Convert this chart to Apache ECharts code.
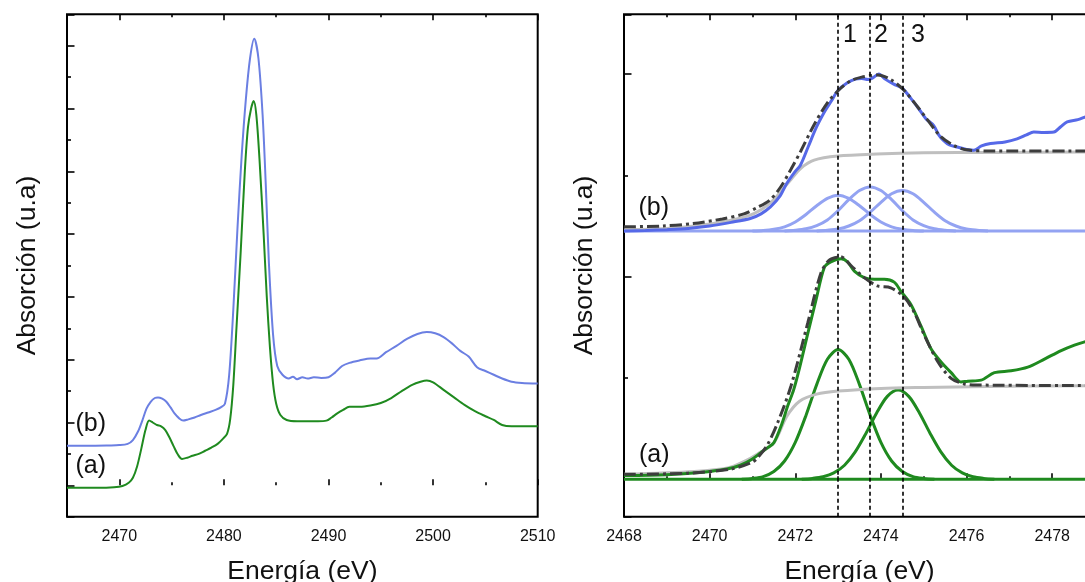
<!DOCTYPE html>
<html>
<head>
<meta charset="utf-8">
<script src="https://cdn.jsdelivr.net/npm/echarts@6/dist/echarts.min.js"></script>
<style>
  html, body { margin: 0; padding: 0; background: #ffffff; }
  #chart { width: 1085px; height: 582px; }
</style>
</head>
<body>
<div id="chart"></div>
<script>
// ---------- Left panel: full S K-edge XANES spectra ----------
const spectrumEnergyB = [2465, 2467, 2469, 2470, 2470.8, 2471.3, 2471.8, 2472.2, 2472.6, 2473.0, 2473.4, 2473.7, 2474.1, 2474.5, 2474.9, 2475.3, 2475.7, 2476.1, 2476.6, 2477.2, 2477.8, 2478.5, 2479.2, 2479.7, 2480.1, 2480.5, 2480.9, 2481.3, 2481.7, 2482.1, 2482.5, 2482.9, 2483.3, 2483.7, 2484.0, 2484.3, 2484.7, 2485.1, 2485.6, 2486.2, 2486.6, 2487.0, 2487.5, 2488.0, 2488.6, 2489.3, 2490.0, 2490.6, 2491.3, 2492.0, 2493.0, 2494.0, 2494.6, 2495.5, 2496.5, 2497.5, 2498.5, 2499.4, 2500.2, 2501.0, 2501.8, 2502.6, 2503.4, 2504.2, 2505.0, 2505.8, 2506.6, 2507.5, 2508.5, 2510];
const spectrumAbsB = [0.63, 0.63, 0.635, 0.64, 0.66, 0.72, 0.86, 1.03, 1.22, 1.33, 1.39, 1.40, 1.38, 1.33, 1.24, 1.14, 1.07, 1.03, 1.05, 1.08, 1.12, 1.16, 1.20, 1.24, 1.30, 1.75, 2.8, 4.1, 5.25, 6.15, 6.8, 7.11, 6.8, 5.9, 4.8, 3.55, 2.4, 1.9, 1.76, 1.70, 1.73, 1.69, 1.72, 1.70, 1.72, 1.71, 1.72, 1.79, 1.90, 1.95, 1.99, 2.02, 2.02, 2.12, 2.22, 2.33, 2.41, 2.44, 2.42, 2.36, 2.26, 2.14, 2.05, 1.88, 1.82, 1.76, 1.70, 1.65, 1.63, 1.62];

const spectrumEnergyA = [2465, 2468, 2469.5, 2470.3, 2470.9, 2471.3, 2471.7, 2472.1, 2472.5, 2472.85, 2473.2, 2473.6, 2474.0, 2474.4, 2474.8, 2475.2, 2475.6, 2476.0, 2476.5, 2477.0, 2477.6, 2478.2, 2478.8, 2479.4, 2479.9, 2480.3, 2480.6, 2480.9, 2481.2, 2481.6, 2482.0, 2482.3, 2482.6, 2482.85, 2483.1, 2483.4, 2483.8, 2484.1, 2484.4, 2484.7, 2485.0, 2485.4, 2486.0, 2487.0, 2488.0, 2489.0, 2489.8, 2490.3, 2490.8, 2491.4, 2492.0, 2493.0, 2494.0, 2495.0, 2496.0, 2497.0, 2498.0, 2498.8, 2499.4, 2500.0, 2501.0, 2502.0, 2503.0, 2504.0, 2505.0, 2505.8, 2506.6, 2507.5, 2510];
const spectrumAbsA = [-0.04, -0.04, -0.03, -0.01, 0.04, 0.12, 0.30, 0.58, 0.88, 1.03, 1.00, 0.96, 0.94, 0.88, 0.76, 0.62, 0.49, 0.42, 0.44, 0.47, 0.50, 0.55, 0.60, 0.66, 0.74, 0.82, 1.05, 1.6, 2.5, 3.7, 5.0, 5.7, 6.0, 6.12, 5.9, 5.2, 4.0, 3.0, 2.2, 1.62, 1.30, 1.12, 1.04, 1.02, 1.02, 1.02, 1.03, 1.08, 1.14, 1.20, 1.25, 1.25, 1.27, 1.31, 1.39, 1.50, 1.60, 1.65, 1.67, 1.64, 1.52, 1.40, 1.28, 1.18, 1.10, 1.04, 0.96, 0.94, 0.94];

// ---------- Right panel: pre-edge region with Gaussian deconvolution ----------
const peakCenters = [2473.0, 2473.75, 2474.5];
const peakNames = ['1', '2', '3'];

// sample (b)
const preEdgeEnergyB = [2468.0, 2468.5, 2469.0, 2469.5, 2470.0, 2470.5, 2470.95, 2471.2, 2471.42, 2471.65, 2471.8, 2472.0, 2472.12, 2472.3, 2472.5, 2472.7, 2472.85, 2473.0, 2473.2, 2473.4, 2473.55, 2473.7, 2473.8, 2473.95, 2474.1, 2474.3, 2474.5, 2474.7, 2474.88, 2475.05, 2475.23, 2475.35, 2475.46, 2475.6, 2475.78, 2476.0, 2476.17, 2476.35, 2476.56, 2476.9, 2477.18, 2477.4, 2477.57, 2477.8, 2478.04, 2478.2, 2478.35, 2478.6, 2478.78, 2479.0];
const preEdgeAbsB = [1.225, 1.228, 1.232, 1.238, 1.25, 1.268, 1.287, 1.31, 1.344, 1.40, 1.46, 1.52, 1.55, 1.64, 1.74, 1.82, 1.87, 1.92, 1.955, 1.975, 1.978, 1.973, 1.98, 2.0, 1.975, 1.95, 1.93, 1.88, 1.83, 1.78, 1.747, 1.70, 1.673, 1.65, 1.64, 1.628, 1.624, 1.645, 1.657, 1.665, 1.68, 1.70, 1.714, 1.712, 1.714, 1.74, 1.764, 1.775, 1.788, 1.80];

const fitEnergyB = [2468.0, 2468.9, 2469.6, 2470.3, 2470.8, 2471.1, 2471.4, 2471.65, 2471.9, 2472.13, 2472.44, 2472.75, 2473.06, 2473.3, 2473.55, 2473.92, 2474.23, 2474.54, 2474.85, 2475.08, 2475.39, 2475.7, 2476.0, 2476.6, 2479.0];
const fitAbsB = [1.246, 1.25, 1.262, 1.285, 1.31, 1.34, 1.377, 1.44, 1.53, 1.62, 1.75, 1.858, 1.93, 1.967, 1.985, 1.995, 1.973, 1.92, 1.84, 1.776, 1.693, 1.648, 1.626, 1.62, 1.62];

const stepEnergyB = [2468.0, 2469.0, 2469.64, 2470.42, 2470.9, 2471.2, 2471.5, 2471.65, 2471.9, 2472.13, 2472.44, 2472.99, 2473.9, 2475.0, 2476.6, 2479.0];
const stepAbsB = [1.232, 1.238, 1.25, 1.275, 1.30, 1.33, 1.38, 1.418, 1.48, 1.535, 1.575, 1.595, 1.605, 1.611, 1.613, 1.615];

const baseEnergy = [2468.0, 2479.0];
const baseAbsB = [1.2255, 1.2255];

const gauss1EnergyB = [2471.0, 2471.25, 2471.5, 2471.75, 2472.0, 2472.25, 2472.5, 2472.75, 2473.0, 2473.25, 2473.5, 2473.75, 2474.0, 2474.25, 2474.5, 2474.75, 2475.0];
const gauss1AbsB = [1.2255, 1.228, 1.234, 1.246, 1.270, 1.307, 1.350, 1.386, 1.402, 1.386, 1.350, 1.307, 1.270, 1.246, 1.234, 1.228, 1.2255];
const gauss2EnergyB = [2471.75, 2472.0, 2472.25, 2472.5, 2472.75, 2473.0, 2473.25, 2473.5, 2473.75, 2474.0, 2474.25, 2474.5, 2474.75, 2475.0, 2475.25, 2475.5, 2475.75];
const gauss2AbsB = [1.2255, 1.229, 1.236, 1.252, 1.280, 1.326, 1.380, 1.425, 1.443, 1.425, 1.380, 1.326, 1.280, 1.252, 1.236, 1.229, 1.2255];
const gauss3EnergyB = [2472.5, 2472.75, 2473.0, 2473.25, 2473.5, 2473.75, 2474.0, 2474.25, 2474.5, 2474.75, 2475.0, 2475.25, 2475.5, 2475.75, 2476.0, 2476.25, 2476.5];
const gauss3AbsB = [1.2255, 1.229, 1.235, 1.250, 1.276, 1.318, 1.367, 1.409, 1.425, 1.409, 1.367, 1.318, 1.276, 1.250, 1.235, 1.229, 1.2255];

// sample (a)
const preEdgeEnergyA = [2468.0, 2469.0, 2469.78, 2470.4, 2470.72, 2471.0, 2471.19, 2471.35, 2471.5, 2471.69, 2471.82, 2471.96, 2472.1, 2472.29, 2472.48, 2472.68, 2472.83, 2473.07, 2473.22, 2473.38, 2473.61, 2473.85, 2474.08, 2474.31, 2474.47, 2474.7, 2474.94, 2475.17, 2475.4, 2475.64, 2475.87, 2476.03, 2476.34, 2476.65, 2477.04, 2477.43, 2477.82, 2478.21, 2478.52, 2478.74, 2479.0];
const preEdgeAbsA = [0.018, 0.022, 0.033, 0.05, 0.069, 0.10, 0.13, 0.155, 0.18, 0.275, 0.36, 0.44, 0.55, 0.717, 0.881, 1.046, 1.073, 1.088, 1.073, 1.027, 0.995, 0.987, 0.987, 0.973, 0.927, 0.863, 0.754, 0.644, 0.58, 0.526, 0.48, 0.484, 0.489, 0.526, 0.535, 0.553, 0.593, 0.635, 0.662, 0.677, 0.69];

const fitEnergyA = [2468.0, 2469.5, 2470.5, 2471.0, 2471.12, 2471.35, 2471.59, 2471.9, 2472.29, 2472.6, 2472.8, 2473.07, 2473.3, 2473.61, 2473.92, 2474.23, 2474.54, 2474.77, 2475.0, 2475.33, 2475.64, 2475.95, 2476.26, 2479.0];
const fitAbsA = [0.024, 0.03, 0.05, 0.085, 0.106, 0.17, 0.28, 0.46, 0.77, 1.018, 1.082, 1.097, 1.055, 0.995, 0.954, 0.945, 0.90, 0.827, 0.717, 0.58, 0.498, 0.47, 0.465, 0.462];

const stepEnergyA = [2468.0, 2469.64, 2470.42, 2470.81, 2471.12, 2471.5, 2471.8, 2472.1, 2472.5, 2473.0, 2474.0, 2475.0, 2476.5, 2479.0];
const stepAbsA = [0.024, 0.038, 0.055, 0.088, 0.125, 0.18, 0.31, 0.385, 0.42, 0.435, 0.448, 0.453, 0.458, 0.462];

const baseAbsA = [0.0, 0.0];

const gauss1EnergyA = [2470.75, 2471.0, 2471.25, 2471.5, 2471.75, 2472.0, 2472.25, 2472.5, 2472.75, 2473.0, 2473.25, 2473.5, 2473.75, 2474.0, 2474.25, 2474.5, 2474.75, 2475.0, 2475.25];
const gauss1AbsA = [0.000, 0.004, 0.013, 0.038, 0.090, 0.182, 0.315, 0.467, 0.592, 0.640, 0.592, 0.467, 0.315, 0.182, 0.090, 0.038, 0.013, 0.004, 0.000];
const gauss3EnergyA = [2472.15, 2472.4, 2472.65, 2472.9, 2473.15, 2473.4, 2473.65, 2473.9, 2474.15, 2474.4, 2474.65, 2474.9, 2475.15, 2475.4, 2475.65, 2475.9, 2476.15, 2476.4, 2476.65];
const gauss3AbsA = [0.000, 0.004, 0.012, 0.031, 0.069, 0.135, 0.226, 0.327, 0.409, 0.440, 0.409, 0.327, 0.226, 0.135, 0.069, 0.031, 0.012, 0.004, 0.000];

// ---------- helpers ----------
const FONT = 'Liberation Sans, Arial, Helvetica, sans-serif';
const BLUE = '#6b7fe2';
const BLUE_DARK = '#5669e8';
const BLUE_LIGHT = '#93a3f2';
const GREEN = '#1f8a1f';
const GRAY = '#bfbfbf';
const FIT = '#3d3d3d';

function pairs(xs, ys) {
  return xs.map((x, i) => [x, ys[i]]);
}

function lineSeries(xIdx, yIdx, xs, ys, color, width, extra) {
  return Object.assign({
    type: 'line',
    xAxisIndex: xIdx,
    yAxisIndex: yIdx,
    data: pairs(xs, ys),
    showSymbol: false,
    symbol: 'none',
    smooth: 0.3,
    silent: true,
    animation: false,
    lineStyle: { color: color, width: width },
    itemStyle: { color: color }
  }, extra || {});
}

const tickStyle = { color: '#000', width: 1.6 };

function xAxis(gridIndex, position, range, withLabels) {
  const ax = {
    type: 'value',
    gridIndex: gridIndex,
    position: position,
    min: range.min,
    max: range.max,
    axisLine: { show: false },
    splitLine: { show: false },
    minorSplitLine: { show: false },
    axisTick: { show: true, inside: true, length: 6, lineStyle: tickStyle },
    minorTick: { show: true, splitNumber: 2, length: 3, lineStyle: tickStyle },
    axisLabel: { show: false }
  };
  if (range.interval) ax.interval = range.interval; else ax.splitNumber = range.splitNumber;
  if (withLabels) {
    ax.axisLabel = {
      show: true, margin: 12, fontSize: 16, color: '#111', fontFamily: FONT,
      showMinLabel: range.showMin,
      formatter: function (v) { return (Math.round(v) % range.labelStep === 0) ? String(Math.round(v)) : ''; }
    };
    ax.name = 'Energía (eV)';
    ax.nameLocation = 'middle';
    ax.nameGap = 41;
    ax.nameTextStyle = { fontSize: 26.5, color: '#111', fontFamily: FONT };
  }
  return ax;
}

function yAxis(gridIndex, min, max, splitNumber) {
  return {
    type: 'value',
    gridIndex: gridIndex,
    position: 'left',
    min: min,
    max: max,
    splitNumber: splitNumber,
    axisLine: { show: false },
    splitLine: { show: false },
    minorSplitLine: { show: false },
    axisTick: { show: true, inside: true, length: 7.5, lineStyle: tickStyle },
    minorTick: { show: true, splitNumber: 2, length: 4, lineStyle: tickStyle },
    axisLabel: { show: false },
    name: 'Absorción (u.a)',
    nameLocation: 'middle',
    nameGap: 26,
    nameTextStyle: { fontSize: 26.5, color: '#111', fontFamily: FONT }
  };
}

const leftRange = { min: 2465, max: 2510, splitNumber: 4, labelStep: 10, showMin: false };
const rightRange = { min: 2468, max: 2479, interval: 2, labelStep: 2, showMin: true };

const labelText = (x, y, text) => ({
  type: 'text', left: x, top: y, silent: true, z: 100,
  style: { text: text, fontSize: 25, fontFamily: FONT, fill: '#111' }
});

const gridBase = {
  top: 14.3, bottom: 65.3, show: true, borderColor: '#000', borderWidth: 2,
  backgroundColor: 'transparent', containLabel: false, outerBoundsMode: 'none'
};

const option = {
  backgroundColor: '#ffffff',
  animation: false,
  grid: [
    Object.assign({ left: 67, right: 547.3 }, gridBase),
    Object.assign({ left: 624, right: -10 }, gridBase)
  ],
  xAxis: [
    xAxis(0, 'bottom', leftRange, true),
    xAxis(0, 'top', leftRange, false),
    xAxis(1, 'bottom', rightRange, true),
    xAxis(1, 'top', rightRange, false)
  ],
  yAxis: [
    yAxis(0, -0.5, 7.5, 8),
    yAxis(1, -0.185, 2.295, 2)
  ],
  series: [
    // left panel
    lineSeries(0, 0, spectrumEnergyB, spectrumAbsB, BLUE, 2),
    lineSeries(0, 0, spectrumEnergyA, spectrumAbsA, GREEN, 2),

    // right panel, sample (b)
    lineSeries(2, 1, baseEnergy, baseAbsB, BLUE_LIGHT, 3, { smooth: false }),
    lineSeries(2, 1, gauss1EnergyB, gauss1AbsB, BLUE_LIGHT, 3),
    lineSeries(2, 1, gauss2EnergyB, gauss2AbsB, BLUE_LIGHT, 3),
    lineSeries(2, 1, gauss3EnergyB, gauss3AbsB, BLUE_LIGHT, 3),
    lineSeries(2, 1, stepEnergyB, stepAbsB, GRAY, 3),
    lineSeries(2, 1, preEdgeEnergyB, preEdgeAbsB, BLUE_DARK, 3),
    lineSeries(2, 1, fitEnergyB, fitAbsB, FIT, 3, { lineStyle: { color: FIT, width: 3, type: [12, 4, 3, 4] } }),

    // right panel, sample (a)
    lineSeries(2, 1, baseEnergy, baseAbsA, GREEN, 3, { smooth: false }),
    lineSeries(2, 1, gauss1EnergyA, gauss1AbsA, GREEN, 3),
    lineSeries(2, 1, gauss3EnergyA, gauss3AbsA, GREEN, 3),
    lineSeries(2, 1, stepEnergyA, stepAbsA, GRAY, 3),
    lineSeries(2, 1, preEdgeEnergyA, preEdgeAbsA, GREEN, 3),
    lineSeries(2, 1, fitEnergyA, fitAbsA, FIT, 3, { lineStyle: { color: FIT, width: 3, type: [12, 4, 3, 4] } }),

    // peak positions
    {
      type: 'line', xAxisIndex: 2, yAxisIndex: 1, data: [], z: 20, silent: true,
      markLine: {
        silent: true, symbol: ['none', 'none'], animation: false,
        label: { show: false },
        lineStyle: { color: '#000', width: 1.6, type: [4, 3] },
        data: peakCenters.map(c => ({ xAxis: c }))
      }
    }
  ],
  graphic: [
    labelText(75.5, 412, '(b)'),
    labelText(75.5, 454, '(a)'),
    labelText(638.5, 196, '(b)'),
    labelText(639, 443, '(a)'),
    labelText(843, 23, peakNames[0]),
    labelText(874, 23, peakNames[1]),
    labelText(911, 23, peakNames[2])
  ]
};

const chart = echarts.init(document.getElementById('chart'), null, { renderer: 'canvas' });
chart.setOption(option);
</script>
</body>
</html>
